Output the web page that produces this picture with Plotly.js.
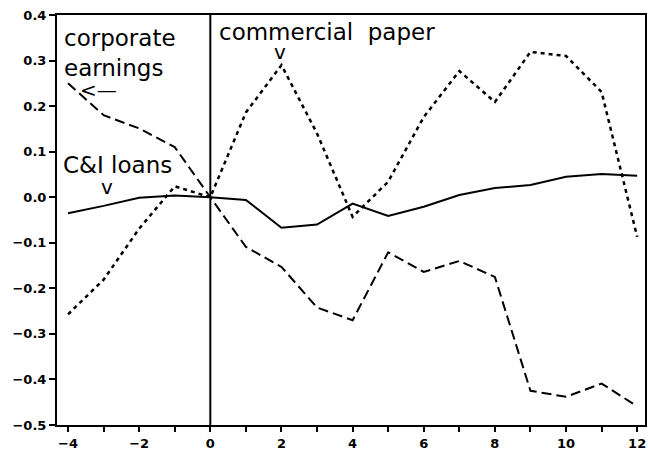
<!DOCTYPE html>
<html>
<head>
<meta charset="utf-8">
<script src="https://cdn.plot.ly/plotly-3.0.1.min.js"></script>
<style>html,body{margin:0;padding:0;background:#fff;}#chart{width:648px;height:455px;}</style>
</head>
<body>
<div id="chart"></div>
<script>
const months = [-4, -3, -2, -1, 0, 1, 2, 3, 4, 5, 6, 7, 8, 9, 10, 11, 12];
const ciLoans = [-0.035, -0.019, -0.001, 0.004, 0, -0.006, -0.067, -0.06, -0.014, -0.041, -0.021, 0.005, 0.02, 0.027, 0.045, 0.051, 0.047];
const corpEarnings = [0.25, 0.18, 0.151, 0.11, 0, -0.109, -0.153, -0.242, -0.27, -0.121, -0.164, -0.14, -0.175, -0.425, -0.438, -0.409, -0.459];
const commPaper = [-0.257, -0.181, -0.069, 0.024, 0, 0.186, 0.29, 0.14, -0.043, 0.034, 0.176, 0.277, 0.209, 0.319, 0.31, 0.231, -0.087];
const xTickVals = [-4, -2, 0, 2, 4, 6, 8, 10, 12];
const xMinorVals = [-3, -1, 1, 3, 5, 7, 9, 11];
const yTickVals = [-0.5, -0.4, -0.3, -0.2, -0.1, 0, 0.1, 0.2, 0.3, 0.4];

const labelFont = {family: 'DejaVu Sans', size: 23, color: '#000'};
const vFont = {family: 'DejaVu Sans', size: 20, color: '#000'};
const tickFont = {family: 'DejaVu Sans', size: 13, color: '#000', weight: 'bold'};

const traces = [
  {x: months, y: ciLoans, mode: 'lines', name: 'C&I loans', line: {color: '#000', width: 2, dash: 'solid'}},
  {x: months, y: corpEarnings, mode: 'lines', name: 'corporate earnings', line: {color: '#000', width: 2, dash: '10px,5px'}},
  {x: months, y: commPaper, mode: 'lines', name: 'commercial paper', line: {color: '#000', width: 2.5, dash: '4px,4px'}}
];

const layout = {
  width: 648, height: 455,
  margin: {l: 57, r: 3, t: 15, b: 30},
  paper_bgcolor: '#fff', plot_bgcolor: '#fff',
  showlegend: false,
  xaxis: {
    range: [-4.31, 12.22], tickvals: xTickVals, ticks: 'outside', ticklen: 5, tickwidth: 2, tickcolor: '#000',
    minor: {tickvals: xMinorVals, ticks: 'outside', ticklen: 5, tickwidth: 2, tickcolor: '#000', showgrid: false},
    showgrid: false, zeroline: false, showline: true, linecolor: '#000', linewidth: 2, mirror: true,
    tickfont: tickFont
  },
  yaxis: {
    range: [-0.5, 0.4], tickvals: yTickVals, tickformat: '.1f', ticks: 'outside', ticklen: 6, tickwidth: 2, tickcolor: '#000',
    showgrid: false, zeroline: false, showline: true, linecolor: '#000', linewidth: 2, mirror: true,
    tickfont: tickFont
  },
  shapes: [
    {type: 'line', xref: 'x', yref: 'paper', x0: 0, x1: 0, y0: 0, y1: 1, line: {color: '#000', width: 2}}
  ],
  annotations: [
    {xref: 'x', yref: 'y', x: -4.16, y: 0.383, xanchor: 'left', yanchor: 'top', align: 'left', showarrow: false,
     text: 'corporate<br>earnings', font: labelFont},
    {xref: 'x', yref: 'y', x: -3.13, y: 0.235, xanchor: 'center', yanchor: 'middle', showarrow: false,
     text: '<—', font: vFont},
    {xref: 'x', yref: 'y', x: -2.61, y: 0.071, xanchor: 'center', yanchor: 'middle', showarrow: false,
     text: 'C&amp;I loans', font: labelFont},
    {xref: 'x', yref: 'y', x: -2.91, y: 0.022, xanchor: 'center', yanchor: 'middle', showarrow: false,
     text: 'v', font: vFont},
    {xref: 'x', yref: 'y', x: 0.2, y: 0.362, xanchor: 'left', yanchor: 'middle', showarrow: false,
     text: 'commercial  paper', font: labelFont},
    {xref: 'x', yref: 'y', x: 1.97, y: 0.318, xanchor: 'center', yanchor: 'middle', showarrow: false,
     text: 'v', font: vFont}
  ]
};

Plotly.newPlot('chart', traces, layout, {displayModeBar: false, staticPlot: true});
</script>
</body>
</html>
